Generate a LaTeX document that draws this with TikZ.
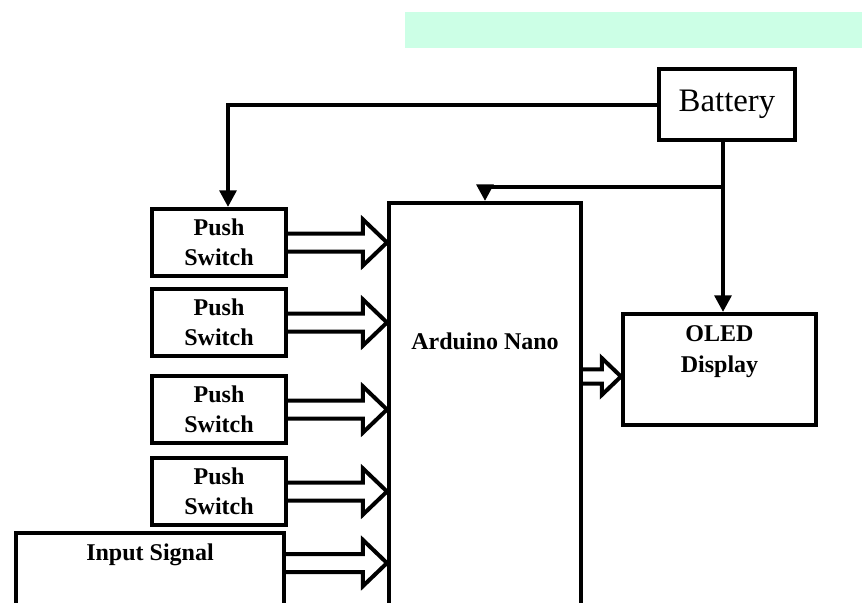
\documentclass[tikz,border=0pt]{standalone}
\usepackage{fontspec}
\setmainfont{Liberation Serif}
\usepackage{xcolor}
\usetikzlibrary{arrows.meta, positioning, calc}

\definecolor{mint}{HTML}{CCFFE6}

% hollow block arrow, drawn horizontally from #2 to the tip #3
\newcommand{\hollowarrow}[3][1]{%
  \draw[fatarrow] let \p1=(#2), \p2=(#3) in
    (\x1,\y1+#1*0.27cm) -- (\x2-#1*0.72cm,\y1+#1*0.27cm) -- (\x2-#1*0.72cm,\y1+#1*0.69cm)
    -- (\x2,\y1) -- (\x2-#1*0.72cm,\y1-#1*0.69cm) -- (\x2-#1*0.72cm,\y1-#1*0.27cm) -- (\x1,\y1-#1*0.27cm);
}

\begin{document}
\begin{tikzpicture}[
    x=0.03cm, y=-0.03cm,
    box/.style={rectangle, draw, line width=1.2mm, inner sep=0pt},
    switch/.style={box, minimum width=4cm, minimum height=2.01cm, font=\fontsize{20.5}{25.5}\selectfont\bfseries, align=center},
    lbl/.style={font=\fontsize{20.5}{26.5}\selectfont\bfseries, align=center},
    wire/.style={line width=1.2mm},
    feed/.style={wire, -{Triangle[length=5mm, width=5mm]}},
    fatarrow/.style={line width=1.2mm, line join=miter}
]
\useasboundingbox (0,0) rectangle (862,602);
\clip (0,0) rectangle (862,602);

% background band
\fill[mint] (405,12) rectangle (862,48);

% Power
\node[box, minimum width=4.08cm, minimum height=2.13cm, font=\fontsize{28}{34}\selectfont] (battery) at (727,104.5) {Battery};

% Inputs
\node[switch] (sw1) at (219,242.5) {Push\\Switch};
\node[switch, below=0.27cm of sw1] (sw2) {Push\\Switch};
\node[switch, below=0.48cm of sw2] (sw3) {Push\\Switch};
\node[switch, below=0.33cm of sw3] (sw4) {Push\\Switch};
\node[box, minimum width=8.04cm, minimum height=2.37cm] (insig) at (150,572.5) {};
\node[lbl] (insigtxt) at ([yshift=-0.7cm]insig.north) {Input Signal};

% Controller
\node[box, minimum width=5.76cm, minimum height=12.51cm] (nano) at (485,411.5) {};
\node[lbl] (nanotxt) at ([yshift=-4.2cm]nano.north) {Arduino Nano};

% Output
\node[box, minimum width=5.79cm, minimum height=3.33cm] (oled) at (719.5,369.5) {};
\node[lbl] (oledtxt) at ([yshift=-1.2cm]oled.north) {OLED\\Display};

\coordinate (split) at (723,187);
\coordinate (insigout) at ([yshift=-0.96cm]insig.north east);
\coordinate (oledin) at ([yshift=-0.21cm]oled.west);

% Supply lines
\draw[feed] (battery.west) -| ([xshift=0.27cm]sw1.north);
\draw[wire] (battery.south -| split) -- (split);
\draw[feed] (split) -- (split |- oled.north);
\draw[feed] (split) -| (nano.north);

% Signals
\hollowarrow{sw1.east}{nano.west |- sw1.east}
\hollowarrow{sw2.east}{nano.west |- sw2.east}
\hollowarrow{sw3.east}{nano.west |- sw3.east}
\hollowarrow{sw4.east}{nano.west |- sw4.east}
\hollowarrow{insigout}{nano.west |- insigout}
\hollowarrow[0.8]{nano.east |- oledin}{oledin}

\end{tikzpicture}
\end{document}
